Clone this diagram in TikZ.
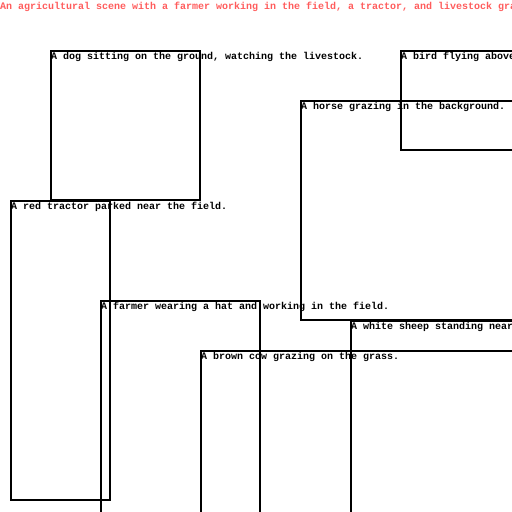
\documentclass[tikz,border=0pt]{standalone}
\usepackage{fontspec}
\setmonofont{Liberation Mono}
\definecolor{titlered}{rgb}{1,0.36,0.36}

\begin{document}
\begin{tikzpicture}[x=1pt,y=-1pt,
    box/.style={line width=2pt},
    lbl/.style={anchor=base west, inner sep=0pt, font=\ttfamily\bfseries\fontsize{10}{12}\selectfont}]
    \useasboundingbox (0,0) rectangle (512,512);
    \clip (0,0) rectangle (512,512);
        \draw[box] (51,51) rectangle (200,200);    % dog
        \draw[box] (401,51) rectangle (560,150);   % bird
        \draw[box] (301,101) rectangle (560,320);  % horse
        \draw[box] (11,201) rectangle (110,500);   % tractor
        \draw[box] (101,301) rectangle (260,560);  % farmer
        \draw[box] (351,321) rectangle (560,560);  % sheep
        \draw[box] (201,351) rectangle (560,560);  % cow
        \node[lbl, text=titlered](title) at (0,9)  {An agricultural scene with a farmer working in the field, a tractor, and livestock gra};
        \node[lbl](dog) at (51,59)  {A dog sitting on the ground, watching the livestock.};
        \node[lbl](bird) at (401,59)  {A bird flying above};
        \node[lbl](horse) at (301,109)  {A horse grazing in the background.};
        \node[lbl](tractor) at (11,209)  {A red tractor parked near the field.};
        \node[lbl](farmer) at (101,309)  {A farmer wearing a hat and working in the field.};
        \node[lbl](sheep) at (351,329)  {A white sheep standing near};
        \node[lbl](cow) at (201,359)  {A brown cow grazing on the grass.};

    \end{tikzpicture}
\end{document}
